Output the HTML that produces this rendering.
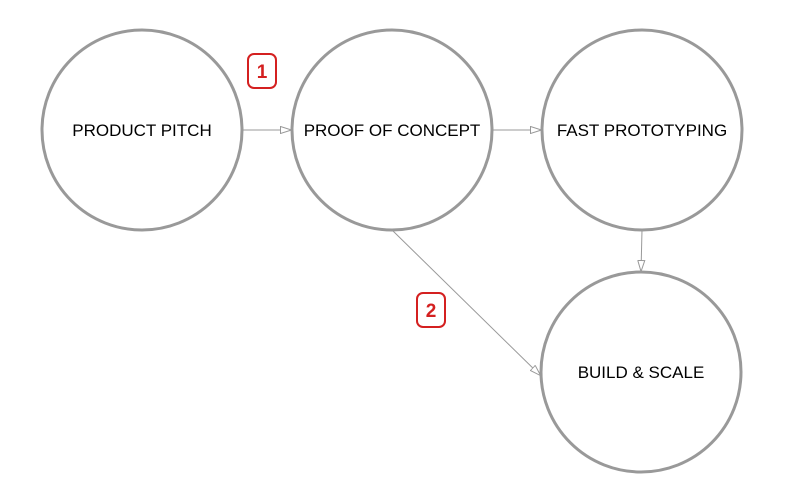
<!DOCTYPE html>
<html><head><meta charset="utf-8"><style>
html,body{margin:0;padding:0;background:#fff;width:800px;height:500px;overflow:hidden}
svg{display:block}
</style></head><body>
<svg id="chart" width="800" height="500" viewBox="0 0 800 500" xmlns="http://www.w3.org/2000/svg">
<defs>
<marker id="arr" viewBox="0 0 12 8" refX="12" refY="4" markerWidth="12" markerHeight="8" markerUnits="userSpaceOnUse" orient="auto">
<path d="M0.5,0.5 L11.5,4 L0.5,7.5 Z" fill="#fff" stroke="#999" stroke-width="1"/>
</marker>
</defs>
<g id="edges"></g><g id="nodes"></g><g id="badges"></g>
</svg>
<script>
const nodeLabels = ["PRODUCT PITCH","PROOF OF CONCEPT","FAST PROTOTYPING","BUILD & SCALE"];
const nodeX = [142,392,642,641];
const nodeY = [130,130,130,372];
const edgeFrom = [0,1,2,1];
const edgeTo = [1,2,3,3];
const badgeLabels = ["1","2"];
const badgeX = [262,431];
const badgeY = [71,310];
const R = 100;
const NS = "http://www.w3.org/2000/svg";
const eg = document.getElementById('edges'), ng = document.getElementById('nodes'), bg = document.getElementById('badges');
for (let i = 0; i < edgeFrom.length; i++) {
  const a = edgeFrom[i], b = edgeTo[i];
  const dx = nodeX[b]-nodeX[a], dy = nodeY[b]-nodeY[a];
  let x1, y1, x2, y2;
  if (Math.abs(dy) < 1) { x1 = nodeX[a]+R; y1 = nodeY[a]; x2 = nodeX[b]-R; y2 = nodeY[b]; }
  else if (Math.abs(dx) < 5) { x1 = nodeX[a]; y1 = nodeY[a]+R; x2 = nodeX[b]; y2 = nodeY[b]-R; }
  else { x1 = nodeX[a]; y1 = nodeY[a]+R; x2 = nodeX[b]-R; y2 = nodeY[b]+4; }
  const l = document.createElementNS(NS,'line');
  
  
  l.setAttribute('x1',x1); l.setAttribute('y1',y1); l.setAttribute('x2',x2); l.setAttribute('y2',y2);
  l.setAttribute('stroke','#999'); l.setAttribute('stroke-width','1'); l.setAttribute('marker-end','url(#arr)');
  eg.appendChild(l);
}
for (let i = 0; i < nodeLabels.length; i++) {
  const c = document.createElementNS(NS,'circle');
  
  
  c.setAttribute('cx',nodeX[i]); c.setAttribute('cy',nodeY[i]); c.setAttribute('r',R);
  c.setAttribute('fill','#fff'); c.setAttribute('stroke','#999'); c.setAttribute('stroke-width','3');
  ng.appendChild(c);
  const t = document.createElementNS(NS,'text');
  
  
  t.setAttribute('x',nodeX[i]); t.setAttribute('y',nodeY[i]+6);
  t.setAttribute('text-anchor','middle'); t.setAttribute('font-family','"Liberation Sans", sans-serif');
  t.setAttribute('font-size','17'); t.setAttribute('fill','#000');
  t.textContent = nodeLabels[i];
  ng.appendChild(t);
}
for (let i = 0; i < badgeLabels.length; i++) {
  const r = document.createElementNS(NS,'rect');
  
  
  r.setAttribute('x',badgeX[i]-14); r.setAttribute('y',badgeY[i]-17); r.setAttribute('width',28); r.setAttribute('height',34);
  r.setAttribute('rx',6); r.setAttribute('fill','#fff'); r.setAttribute('stroke','#d42020'); r.setAttribute('stroke-width','2');
  bg.appendChild(r);
  const t = document.createElementNS(NS,'text');
  
  
  t.setAttribute('x',badgeX[i]); t.setAttribute('y',badgeY[i]+7);
  t.setAttribute('text-anchor','middle'); t.setAttribute('font-family','"Liberation Sans", sans-serif');
  t.setAttribute('font-size','19'); t.setAttribute('font-weight','bold'); t.setAttribute('fill','#d42020');
  t.textContent = badgeLabels[i];
  bg.appendChild(t);
}
</script>
</body></html>
